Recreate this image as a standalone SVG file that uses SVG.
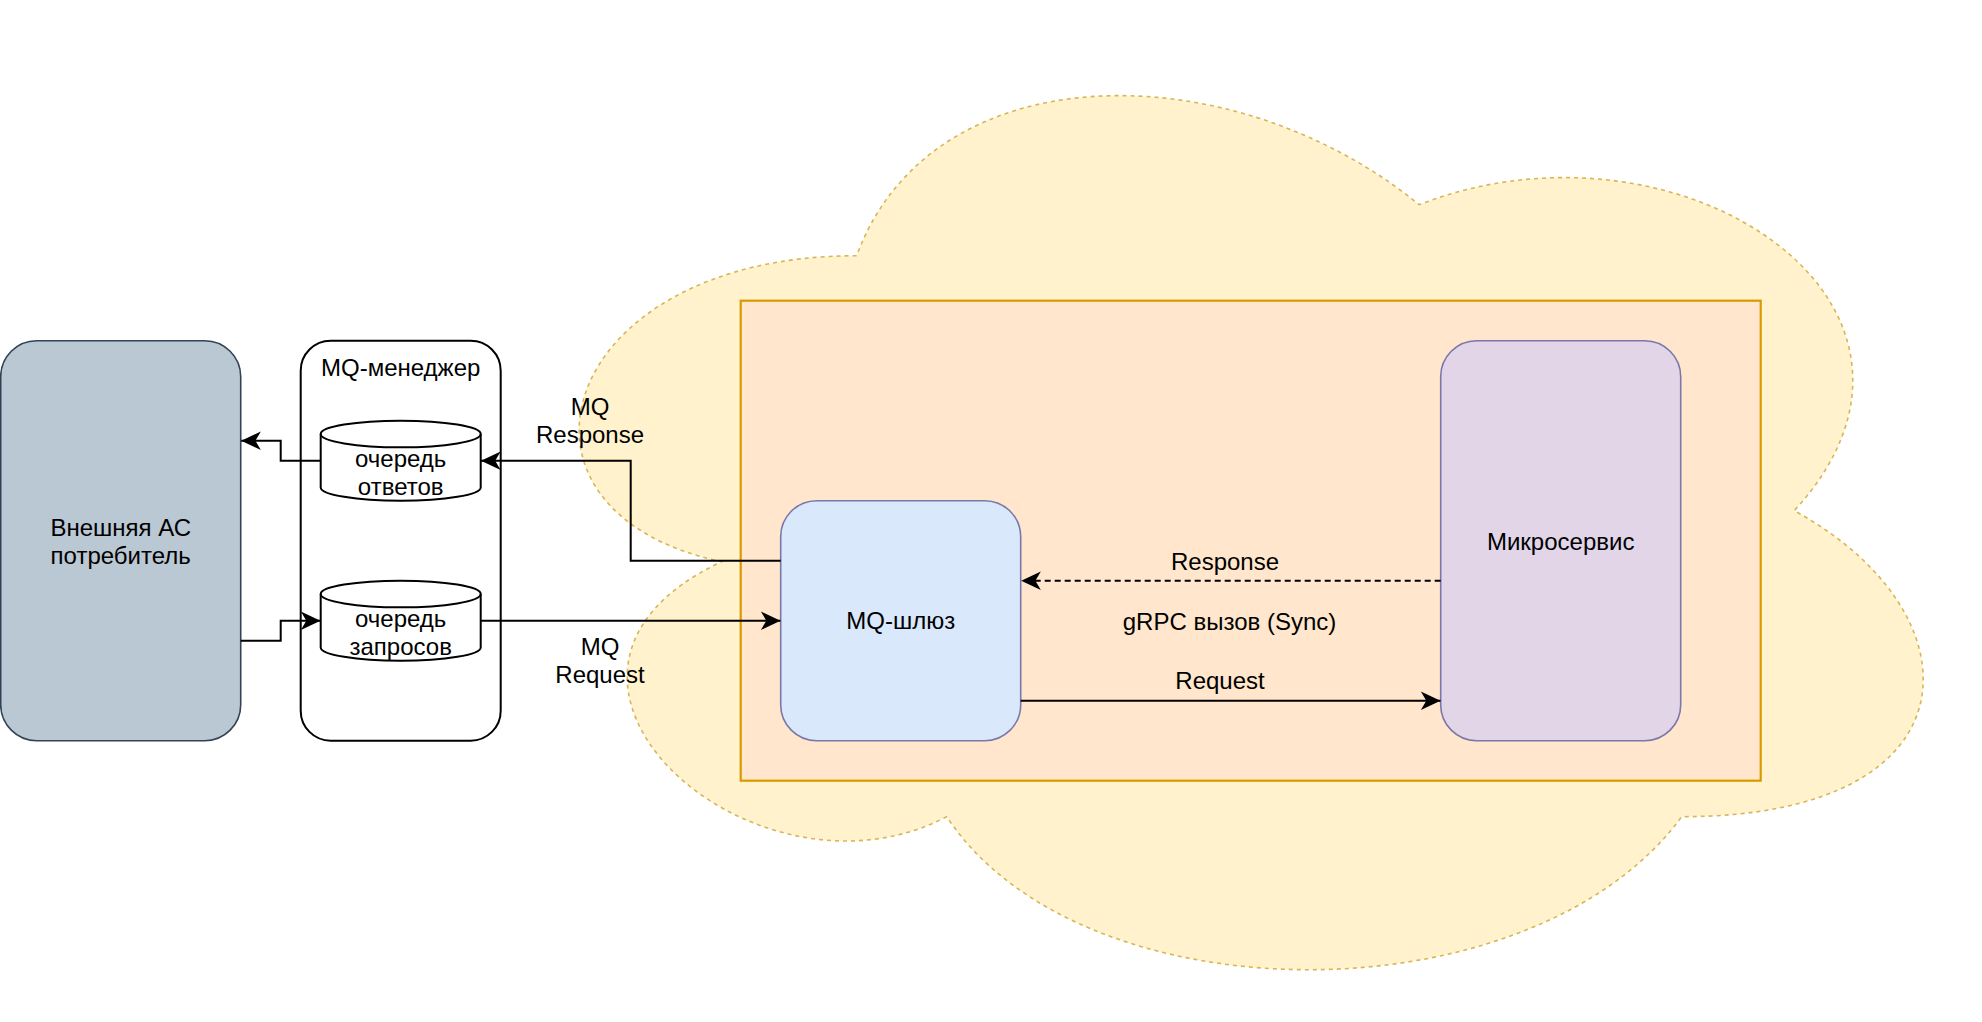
<svg xmlns="http://www.w3.org/2000/svg" width="1982" height="1022" viewBox="0 0 1982 1022">
<style>
text{font-family:"Liberation Sans",Arial,sans-serif;font-size:24px;fill:#000;text-anchor:middle}
.edge{fill:none;stroke:#000;stroke-width:2}
.dash{stroke-dasharray:6 4}
.purple{stroke:#7a78aa;stroke-width:1.6}
</style>
<defs>
<marker id="arr" markerUnits="userSpaceOnUse" markerWidth="24" markerHeight="24" viewBox="-20 -10 22 20" refX="0" refY="0" orient="auto">
<path d="M0,0 L-18,-8.5 L-13,0 L-18,8.5 Z" fill="#000"/>
</marker>
</defs>
<rect width="1982" height="1022" fill="#fff"/>
<g id="cloud">
<path d="M856.7,255.7 C556.7,255.7 481.7,510.7 721.7,561.7 C481.7,673.9 751.7,918.7 946.7,816.7 C1081.7,1020.7 1531.7,1020.7 1681.7,816.7 C1981.7,816.7 1981.7,612.7 1794.2,510.7 C1981.7,306.7 1681.7,102.7 1419.2,204.7 C1231.7,51.7 931.7,51.7 856.7,255.7 Z" fill="#fff2cc" stroke="#d6b656" stroke-width="1.6" stroke-dasharray="4 4"/>
</g>
<g id="container">
<rect x="740.7" y="300.7" width="1020" height="480" fill="#ffe6cc" stroke="#d79b00" stroke-width="2.2"/>
</g>
<g id="external">
<rect x="0.7" y="340.7" width="240" height="400" rx="36" ry="36" fill="#bac8d3" stroke="#314354" stroke-width="1.6"/>
<text x="120.7" y="536">Внешняя АС</text>
<text x="120.7" y="564">потребитель</text>
</g>
<g id="mq-manager">
<rect x="300.7" y="340.7" width="200" height="400" rx="30" ry="30" fill="#fff" stroke="#000" stroke-width="2"/>
<text x="400.7" y="376">MQ-менеджер</text>
</g>
<g id="queue-responses">
<path d="M320.7,434 A80,13.3 0 0 1 480.7,434 L480.7,487.4 A80,13.3 0 0 1 320.7,487.4 Z" fill="#fff" stroke="#000" stroke-width="2"/>
<path d="M320.7,434 A80,13.3 0 0 0 480.7,434" fill="none" stroke="#000" stroke-width="2"/>
<text x="400.7" y="467">очередь</text>
<text x="400.7" y="495">ответов</text>
</g>
<g id="queue-requests">
<path d="M320.7,594 A80,13.3 0 0 1 480.7,594 L480.7,647.4 A80,13.3 0 0 1 320.7,647.4 Z" fill="#fff" stroke="#000" stroke-width="2"/>
<path d="M320.7,594 A80,13.3 0 0 0 480.7,594" fill="none" stroke="#000" stroke-width="2"/>
<text x="400.7" y="627">очередь</text>
<text x="400.7" y="655">запросов</text>
</g>
<g id="mq-gateway">
<rect x="780.7" y="500.7" width="240" height="240" rx="36" ry="36" fill="#dae8fc" class="purple"/>
<text x="900.7" y="629">MQ-шлюз</text>
</g>
<g id="microservice">
<rect x="1440.7" y="340.7" width="240" height="400" rx="36" ry="36" fill="#e1d5e7" class="purple"/>
<text x="1560.7" y="550">Микросервис</text>
</g>
<g id="connectors">
<path class="edge" d="M320.7,460.7 H280.7 V440.7 H241.2" marker-end="url(#arr)"/>
<path class="edge" d="M240.7,640.7 H280.7 V620.7 H320.5" marker-end="url(#arr)"/>
<path class="edge" d="M480.7,620.7 H780.5" marker-end="url(#arr)"/>
<path class="edge" d="M780.7,560.7 H630.7 V460.7 H481" marker-end="url(#arr)"/>
<path class="edge dash" d="M1440.7,580.7 H1021.2" marker-end="url(#arr)"/>
<path class="edge" d="M1020.7,700.7 H1440.5" marker-end="url(#arr)"/>
<text x="590" y="415">MQ</text>
<text x="590" y="443">Response</text>
<text x="600" y="655">MQ</text>
<text x="600" y="683">Request</text>
<text x="1225" y="570">Response</text>
<text x="1229.5" y="630">gRPC вызов (Sync)</text>
<text x="1220" y="689">Request</text>
</g>
</svg>
